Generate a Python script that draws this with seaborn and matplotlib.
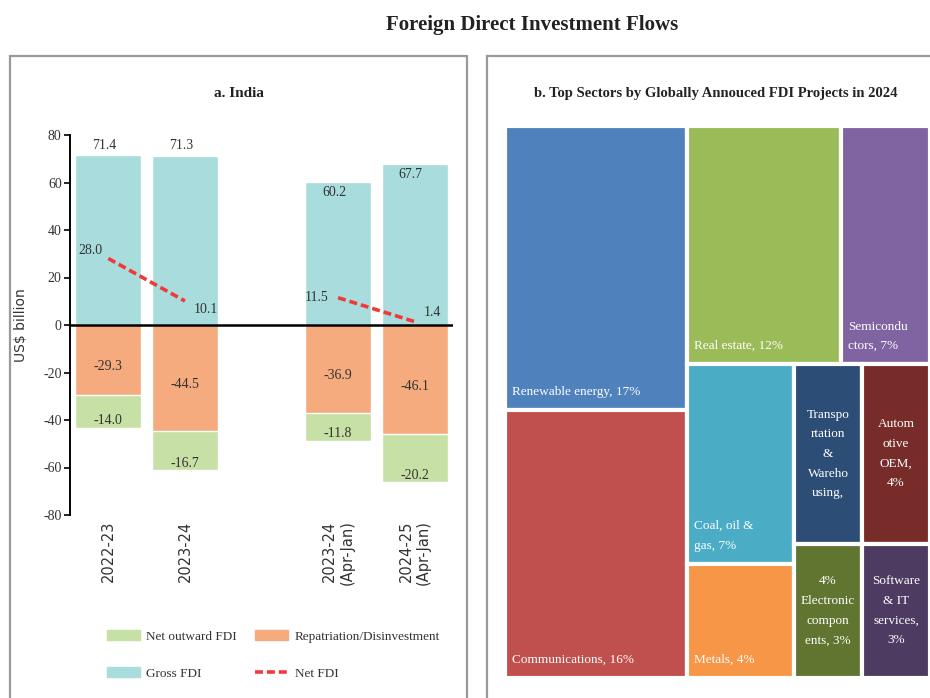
import pandas as pd
import seaborn as sns
import matplotlib.pyplot as plt
from matplotlib.patches import Patch, Rectangle
from matplotlib.lines import Line2D

# --- data: panel a (India, US$ billion) ---
periods = ["2022-23", "2023-24", "2023-24\n(Apr-Jan)", "2024-25\n(Apr-Jan)"]
gross_fdi = [71.4, 71.3, 60.2, 67.7]
repatriation = [-29.3, -44.5, -36.9, -46.1]
net_outward = [-14.0, -16.7, -11.8, -20.2]
net_fdi = [28.0, 10.1, 11.5, 1.4]
segment = [0, 0, 1, 1]  # which pairs the net FDI line joins
y_ticks = [80, 60, 40, 20, 0, -20, -40, -60, -80]

# --- data: panel b (treemap, share of projects %) ---
sectors = ["Renewable energy", "Communications", "Real estate", "Semiconductors",
           "Coal, oil & gas", "Metals", "Transportation & Warehousing",
           "Electronic components", "Automotive OEM", "Software & IT services"]
shares = [17, 16, 12, 7, 7, 4, 4, 3, 4, 3]
box_labels = ["Renewable energy, 17%", "Communications, 16%", "Real estate, 12%",
              "Semicondu\nctors, 7%", "Coal, oil &\ngas, 7%", "Metals, 4%",
              "Transpo\nrtation\n&\nWareho\nusing,", "4%\nElectronic\ncompon\nents, 3%",
              "Autom\notive\nOEM,\n4%", "Software\n& IT\nservices,\n3%"]
box_colors = ["#4F81BD", "#C0504D", "#9BBB59", "#8064A2", "#4BACC6",
              "#F79646", "#2C4D75", "#5F7530", "#772C2A", "#4D3B62"]
# nesting of the treemap (indices into the lists above), slice-and-dice
tree = [[0, 1], [[2, 3], [[4, 5], [6, 7], [8, 9]]]]

# colours
c_gross = "#A9DCDC"
c_repat = "#F5AB7D"
c_out = "#C6E0A5"
c_net = "#F03A3A"
serif = "Liberation Serif"

sns.set_theme(style="white")
plt.rcParams["font.family"] = [serif, "DejaVu Serif"]

fig = plt.figure(figsize=(9.3, 6.98), dpi=100)

# panel frames
for x0, x1 in [(10 / 930, 467 / 930), (487 / 930, 1.05)]:
    fig.patches.append(Rectangle((x0, -0.05), x1 - x0, 0.9698, transform=fig.transFigure,
                                 fill=False, edgecolor="#9A9A9A", linewidth=1.6))

fig.text(0.572, 0.964, "Foreign Direct Investment Flows", ha="center", va="center",
         fontsize=15, fontweight="bold", color="#222222")
fig.text(0.257, 0.866, "a. India", ha="center", va="center",
         fontsize=11, fontweight="bold", color="#222222")
fig.text(0.77, 0.866, "b. Top Sectors by Globally Annouced FDI Projects in 2024",
         ha="center", va="center", fontsize=10.5, fontweight="bold", color="#222222")

# ---------------- panel a ----------------
ax = fig.add_axes([70 / 930, 1 - 515 / 698, 383 / 930, 380 / 698])
order = [periods[0], periods[1], "", periods[2], periods[3]]
df = pd.DataFrame({"period": periods, "gross": gross_fdi, "repat": repatriation,
                   "outward": net_outward, "net": net_fdi, "seg": segment})
df["total_neg"] = df["repat"] + df["outward"]
df["pos"] = [order.index(p) for p in df["period"]]

sns.barplot(data=df, x="period", y="gross", order=order, color=c_gross,
            saturation=1, width=0.86, errorbar=None, ax=ax)
sns.barplot(data=df, x="period", y="total_neg", order=order, color=c_out,
            saturation=1, width=0.86, errorbar=None, ax=ax)
sns.barplot(data=df, x="period", y="repat", order=order, color=c_repat,
            saturation=1, width=0.86, errorbar=None, ax=ax)
sns.lineplot(data=df, x="pos", y="net", units="seg", estimator=None, color=c_net,
             linewidth=2.6, linestyle=(0, (2.2, 1.1)), ax=ax, zorder=4)

ax.axhline(0, color="black", linewidth=1.8, zorder=5)
ax.set_xlim(-0.5, 4.5)
ax.set_ylim(-80, 80)
ax.set_yticks(y_ticks)
ax.set_yticklabels([str(t) for t in y_ticks])
ax.set_xlabel("")
ax.set_ylabel("US$ billion", fontsize=10, color="#333333", family="DejaVu Sans")
ax.yaxis.set_label_coords(-0.11, 0.5)
for s in ["top", "right", "bottom"]:
    ax.spines[s].set_visible(False)
ax.spines["left"].set_color("black")
ax.spines["left"].set_linewidth(1.4)
ax.tick_params(axis="y", left=True, length=4, width=1.2, color="black", pad=2,
               labelsize=10, labelcolor="#333333")
ax.tick_params(axis="x", length=0, pad=4)
for lbl in ax.get_xticklabels():
    lbl.set_rotation(90)
    lbl.set_fontsize(10.5)
    lbl.set_family("DejaVu Sans")
    lbl.set_color("#333333")
    lbl.set_multialignment("right")

lab_kw = dict(fontsize=10, color="#333333", ha="center")
for i, row in df.iterrows():
    p = row["pos"]
    if i < 2:
        ax.text(p - 0.05, row["gross"] + 1.5, f"{row['gross']:.1f}", va="bottom", **lab_kw)
    else:
        ax.text(p - 0.05, row["gross"] - 1.5, f"{row['gross']:.1f}", va="top", **lab_kw)
    ax.text(p, row["repat"] / 2 - 3, f"{row['repat']:.1f}", va="center", **lab_kw)
    ax.text(p, row["total_neg"] + 3, f"{row['outward']:.1f}", va="center", **lab_kw)

# net FDI labels
net_style = [("right", -0.08, 3.5), ("left", 0.12, -3.5), ("right", -0.12, 0.0), ("left", 0.12, 4.0)]
for (ha, dx, dy), (_, row) in zip(net_style, df.iterrows()):
    ax.text(row["pos"] + dx, row["net"] + dy, f"{row['net']:.1f}", ha=ha, va="center",
            fontsize=10, color="#333333", zorder=6)

handles = [Patch(color=c_out), Patch(color=c_gross), Patch(color=c_repat),
           Line2D([0], [0], color=c_net, linewidth=2.6, linestyle=(0, (2.2, 1.1)))]
labels = ["Net outward FDI", "Gross FDI", "Repatriation/Disinvestment", "Net FDI"]
fig.legend(handles, labels, loc="upper left", bbox_to_anchor=(100 / 930, 0.107), ncol=2,
           frameon=False, fontsize=9.5, handlelength=2.5, handleheight=0.8,
           handletextpad=0.5, labelspacing=1.85, columnspacing=1.4, borderpad=0,
           labelcolor="#333333")

# ---------------- panel b: treemap ----------------
tx = fig.add_axes([505 / 930, 1 - 678 / 698, 425 / 930, 552 / 698])
tx.set_xlim(0, 1)
tx.set_ylim(1, 0)
tx.axis("off")


def node_total(node):
    if isinstance(node, int):
        return shares[node]
    return sum(node_total(c) for c in node)


def layout(node, x, y, w, h, split_x, out):
    if isinstance(node, int):
        out[node] = (x, y, w, h)
        return
    tot = node_total(node)
    for child in node:
        frac = node_total(child) / tot
        if split_x:
            layout(child, x, y, w * frac, h, False, out)
            x += w * frac
        else:
            layout(child, x, y, w, h * frac, True, out)
            y += h * frac


boxes = {}
layout(tree, 0, 0, 1, 1, True, boxes)
for i in range(len(sectors)):
    x, y, w, h = boxes[i]
    tx.add_patch(Rectangle((x, y), w, h, facecolor=box_colors[i], edgecolor="white",
                           linewidth=3))
    if w > 0.2:
        tx.text(x + 0.017, y + h - 0.022, box_labels[i], ha="left", va="bottom",
                color="white", fontsize=9.5, linespacing=1.85)
    else:
        tx.text(x + w / 2, y + h / 2, box_labels[i], ha="center", va="center",
                color="white", fontsize=9.5, linespacing=1.85, multialignment="center")

fig.savefig("out.png", dpi=100)
